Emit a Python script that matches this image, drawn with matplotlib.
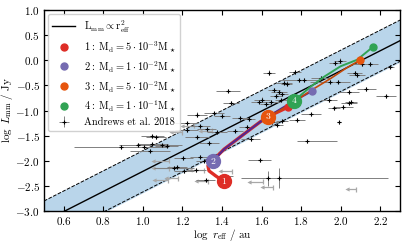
import numpy as np
import matplotlib
matplotlib.use('Agg')
import matplotlib.pyplot as plt

plt.rcParams['font.family'] = 'serif'
plt.rcParams['font.serif'] = ['cmr10']
plt.rcParams['mathtext.fontset'] = 'cm'
plt.rcParams['axes.formatter.use_mathtext'] = True
plt.rcParams['font.size'] = 8

# Andrews et al. 2018 detections: log r_eff, log L_mm, x error (low, high), y error
det_x = [0.89, 0.977, 1.005, 1.048, 1.065, 1.048, 1.098, 1.12, 1.036, 1.157,
         1.275, 1.221, 1.287, 1.322, 1.275, 1.637, 1.432, 1.447, 1.359, 1.398,
         1.49, 1.60, 1.62, 1.662, 1.687, 1.704, 1.671, 1.696, 1.65, 1.726,
         1.704, 1.654, 1.969, 1.996, 1.767, 1.814, 1.789, 1.90, 1.945, 1.985,
         2.07, 2.083, 2.108, 2.13, 2.04, 2.05, 1.94, 2.23, 1.713, 2.01,
         1.965, 2.15, 2.25, 2.04, 1.99, 1.851, 1.777, 1.68, 1.83, 1.687,
         1.59, 1.63, 1.407, 1.317, 1.309, 1.174, 1.205, 1.334, 1.221, 1.544,
         1.524, 1.288, 1.267, 1.208, 1.536, 1.376, 1.465, 1.586]
det_y = [-1.73, -1.68, -1.72, -1.51, -1.53, -1.67, -1.69, -1.70, -1.80, -2.14,
         -1.08, -1.25, -1.31, -1.37, -1.53, -0.25, -0.61, -0.85, -1.05, -1.10,
         -1.15, -0.79, -0.87, -0.60, -0.63, -0.67, -0.72, -0.80, -0.83, -0.47,
         -1.20, -1.23, -0.05, -0.01, -0.23, -0.39, -0.40, -0.35, -0.43, -0.43,
         -0.25, -0.30, -0.07, -0.58, -0.63, -0.83, -0.80, -0.72, -0.45, -0.92,
         -0.95, -0.07, -0.13, -0.85, -1.23, -1.07, -1.18, -1.28, -1.61, -2.35,
         -1.99, -2.35, -2.30, -2.39, -2.00, -2.13, -1.95, -1.65, -1.39, -1.57,
         -1.32, -1.92, -2.19, -2.21, -1.17, -1.43, -1.40, -0.83]
det_xlo = [0.24, 0.10, 0.12, 0.06, 0.05, 0.08, 0.10, 0.06, 0.10, 0.10,
           0.05, 0.06, 0.05, 0.05, 0.06, 0.03, 0.06, 0.04, 0.05, 0.04,
           0.04, 0.04, 0.03, 0.03, 0.04, 0.03, 0.03, 0.03, 0.04, 0.03,
           0.03, 0.03, 0.03, 0.03, 0.03, 0.04, 0.10, 0.05, 0.10, 0.04,
           0.04, 0.04, 0.05, 0.05, 0.05, 0.03, 0.04, 0.05, 0.04, 0.05,
           0.03, 0.04, 0.02, 0.04, 0.01, 0.05, 0.04, 0.03, 0.05, 0.19,
           0.06, 0.05, 0.05, 0.05, 0.04, 0.05, 0.05, 0.05, 0.06, 0.05,
           0.04, 0.05, 0.05, 0.05, 0.03, 0.05, 0.04, 0.04]
det_xhi = [0.18, 0.10, 0.12, 0.06, 0.05, 0.08, 0.10, 0.06, 0.10, 0.10,
           0.05, 0.06, 0.05, 0.05, 0.06, 0.03, 0.06, 0.04, 0.05, 0.04,
           0.04, 0.04, 0.03, 0.03, 0.04, 0.03, 0.03, 0.03, 0.04, 0.03,
           0.03, 0.03, 0.03, 0.03, 0.03, 0.04, 0.10, 0.05, 0.10, 0.04,
           0.04, 0.04, 0.05, 0.05, 0.05, 0.03, 0.04, 0.05, 0.04, 0.05,
           0.03, 0.04, 0.02, 0.04, 0.01, 0.05, 0.04, 0.03, 0.15, 0.55,
           0.06, 0.05, 0.05, 0.05, 0.04, 0.05, 0.05, 0.05, 0.06, 0.05,
           0.04, 0.05, 0.05, 0.05, 0.03, 0.05, 0.04, 0.04]
det_yerr = [0.03, 0.03, 0.03, 0.03, 0.03, 0.03, 0.03, 0.03, 0.03, 0.03,
            0.05, 0.03, 0.03, 0.03, 0.03, 0.05, 0.03, 0.03, 0.03, 0.03,
            0.03, 0.05, 0.03, 0.04, 0.03, 0.03, 0.03, 0.03, 0.03, 0.05,
            0.03, 0.03, 0.04, 0.05, 0.04, 0.04, 0.03, 0.03, 0.03, 0.03,
            0.04, 0.03, 0.05, 0.04, 0.03, 0.04, 0.03, 0.03, 0.03, 0.03,
            0.03, 0.04, 0.03, 0.03, 0.03, 0.03, 0.03, 0.03, 0.03, 0.20,
            0.03, 0.15, 0.03, 0.03, 0.03, 0.03, 0.03, 0.03, 0.03, 0.03,
            0.03, 0.03, 0.03, 0.03, 0.03, 0.03, 0.03, 0.03]

# upper limits in r_eff (arrows to the left)
ul_x = [1.13, 1.175, 1.13, 1.31, 1.33, 1.45, 1.605, 1.66, 2.075, 1.35, 1.20, 1.125, 1.26]
ul_y = [-2.00, -2.35, -2.15, -2.19, -2.41, -2.21, -2.42, -2.53, -2.57, -1.40, -1.43, -2.39, -1.30]
ul_len = [0.08, 0.06, 0.08, 0.07, 0.06, 0.06, 0.07, 0.06, 0.045, 0.06, 0.06, 0.07, 0.06]

# model tracks
t1_x = [1.408, 1.368, 1.334, 1.329, 1.35, 1.41, 1.477, 1.544, 1.595, 1.66, 1.735]
t1_y = [-2.41, -2.30, -2.20, -2.10, -2.01, -1.77, -1.57, -1.37, -1.22, -1.07, -0.93]
t2_x = [1.354, 1.41, 1.477, 1.544, 1.595, 1.696, 1.80, 1.856]
t2_y = [-2.01, -1.77, -1.57, -1.37, -1.22, -0.97, -0.73, -0.61]
t3_x = [1.634, 1.70, 1.763, 1.85, 1.95, 2.03, 2.097]
t3_y = [-1.13, -0.98, -0.83, -0.60, -0.36, -0.15, 0.0]
t4_x = [1.763, 1.847, 1.915, 1.999, 2.083, 2.164]
t4_y = [-0.81, -0.53, -0.33, -0.12, 0.01, 0.27]

labels = [r'$1:\ \mathrm{M_d} = 5\cdot10^{-3}\mathrm{M_\star}$',
          r'$2:\ \mathrm{M_d} = 1\cdot10^{-2}\mathrm{M_\star}$',
          r'$3:\ \mathrm{M_d} = 5\cdot10^{-2}\mathrm{M_\star}$',
          r'$4:\ \mathrm{M_d} = 1\cdot10^{-1}\mathrm{M_\star}$']
dot_colors = ['#de2d26', '#756bb1', '#e6550d', '#31a354']
line_colors = ['#de2d26', '#54278f', '#c44a0a', '#31a354']
line_widths = [2.4, 1.5, 1.2, 1.4]

fig = plt.figure(figsize=(4.07, 2.44), dpi=100)
ax = fig.add_axes([0.108, 0.135, 0.875, 0.824])

# size-luminosity relation and scatter band
c0 = -4.21
hw = 0.41
xx = np.array([0.5, 2.3])
ax.fill_between(xx, 2 * xx + c0 - hw, 2 * xx + c0 + hw, color='#b9d5ea', zorder=0)
ax.plot(xx, 2 * xx + c0 + hw, 'k--', lw=0.7, zorder=1)
ax.plot(xx, 2 * xx + c0 - hw, 'k--', lw=0.7, zorder=1)
ax.plot(xx, 2 * xx + c0, 'k-', lw=1.0, zorder=1, label=r'$\mathrm{L_{mm}} \propto \mathrm{r_{eff}^2}$')

# upper limits: line to the left with a small arrow head
ul_x = np.array(ul_x)
ul_len = np.array(ul_len)
ax.errorbar(ul_x, ul_y, xerr=[ul_len, np.zeros_like(ul_len)], yerr=0.05, fmt='none',
            ecolor='#a8a8a8', elinewidth=0.9, capsize=0, zorder=2)
ax.plot(ul_x - ul_len, ul_y, '<', color='#a8a8a8', ms=3, mew=0, zorder=2)

# detections
ax.errorbar(det_x, det_y, xerr=[det_xlo, det_xhi], yerr=det_yerr, fmt='+',
            color='k', ms=3, mew=0.8, ecolor='#808080', elinewidth=0.7,
            zorder=3, label='Andrews et al. 2018')

# tracks
tracks = [(t1_x, t1_y), (t2_x, t2_y), (t3_x, t3_y), (t4_x, t4_y)]
for i, (tx, ty) in enumerate(tracks):
    ax.plot(tx, ty, '-', color=line_colors[i], lw=line_widths[i], zorder=4 + i)
for i, (tx, ty) in enumerate(tracks):
    ax.plot(tx[-1], ty[-1], 'o', color=dot_colors[i], ms=5, zorder=8, label=labels[i])
    ax.plot(tx[0], ty[0], 'o', color=dot_colors[i], ms=10, zorder=9)
    ax.text(tx[0], ty[0], str(i + 1), color='white', ha='center', va='center',
            fontsize=7, zorder=10)

ax.set_xlim(0.5, 2.3)
ax.set_ylim(-3.0, 1.0)
ax.set_xticks([0.6, 0.8, 1.0, 1.2, 1.4, 1.6, 1.8, 2.0, 2.2])
ax.set_yticks([-3.0, -2.5, -2.0, -1.5, -1.0, -0.5, 0.0, 0.5, 1.0])
ax.tick_params(direction='in', top=True, right=True, length=3.5, width=0.8, pad=3)
for s in ax.spines.values():
    s.set_linewidth(1.0)
ax.set_xlabel(r'$\log\ r_{\rm eff}\ /\ {\rm au}$', labelpad=0)
ax.set_ylabel(r'$\log\ L_{\rm mm}\ /\ {\rm Jy}$', labelpad=0)

h, l = ax.get_legend_handles_labels()
order = [l.index(s) for s in [l[0]] + labels + ['Andrews et al. 2018']]
ax.legend([h[k] for k in order], [l[k] for k in order], loc='upper left',
          fontsize=7.5, framealpha=0.9, edgecolor='#cccccc', handlelength=2.2,
          borderpad=0.4, labelspacing=0.45, borderaxespad=0.4)

fig.savefig('out.png', dpi=100)
